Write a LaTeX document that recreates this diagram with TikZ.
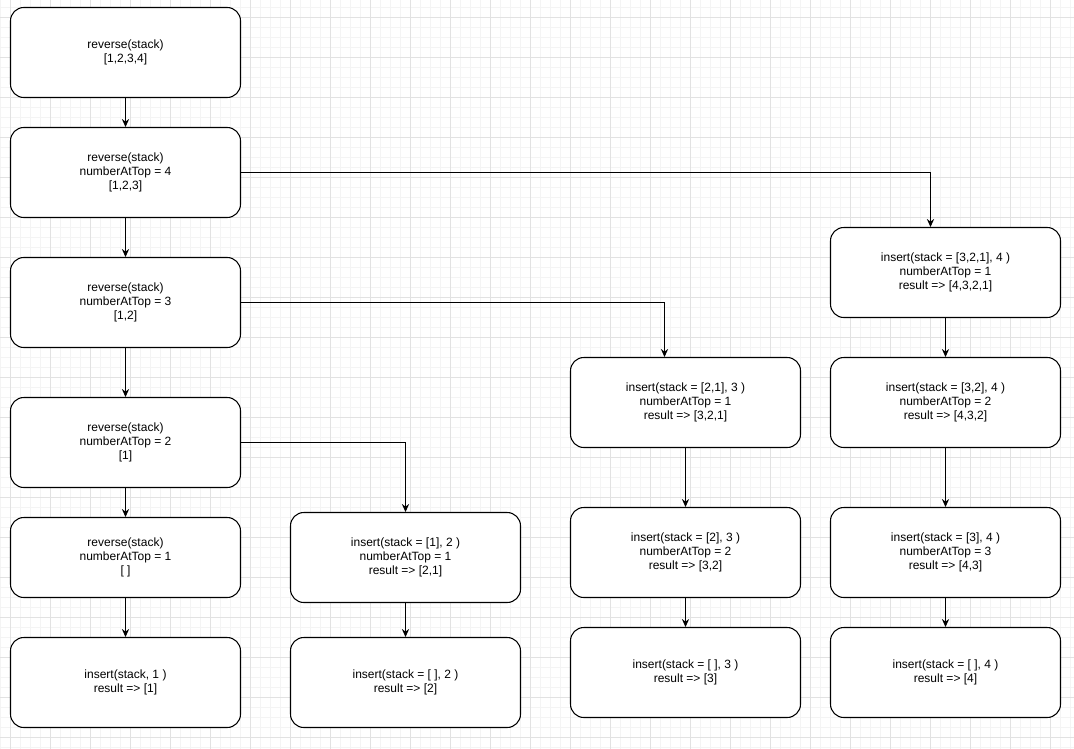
\documentclass[tikz,border=0pt]{standalone}
\usepackage{fontspec}
\setmainfont{Liberation Sans}
\usetikzlibrary{arrows.meta,calc}
\definecolor{gridminor}{HTML}{F4F4F4}
\definecolor{gridmajor}{HTML}{E2E2E2}
\tikzset{
  stepbox/.style={draw=black, line width=0.8pt, fill=white, rounded corners=10pt,
    minimum width=172.5pt, minimum height=67.5pt, inner sep=0pt, align=center,
    font=\fontsize{9}{10.5}\selectfont},
  shortbox/.style={stepbox, minimum height=60pt},
  flow/.style={draw=black, line width=0.8pt, -{Stealth[length=6pt,width=5.5pt,inset=2pt]}}
}
\begin{document}
\begin{tikzpicture}[x=0.75pt,y=-0.75pt]
\useasboundingbox (0,0) rectangle (1074,749);
\fill[white] (0,0) rectangle (1074,749);
% background grid
\foreach \gx in {0.5,10.5,...,1070.5} \draw[gridminor,line width=0.75pt] (\gx,0) -- (\gx,749);
\foreach \gy in {7.5,17.5,...,747.5} \draw[gridminor,line width=0.75pt] (0,\gy) -- (1074,\gy);
\foreach \gx in {10.5,50.5,...,1050.5} \draw[gridmajor,line width=0.75pt] (\gx,0) -- (\gx,749);
\foreach \gy in {17.5,57.5,...,737.5} \draw[gridmajor,line width=0.75pt] (0,\gy) -- (1074,\gy);

% reverse() calls
\node[stepbox] (B1) at (125.5,52.5) {reverse(stack)\\{}[1,2,3,4]};
\node[stepbox] (B2) at (125.5,172.5) {reverse(stack)\\numberAtTop = 4\\{}[1,2,3]};
\node[stepbox] (B3) at (125.5,302.5) {reverse(stack)\\numberAtTop = 3\\{}[1,2]};
\node[stepbox] (B4) at (125.5,442.5) {reverse(stack)\\numberAtTop = 2\\{}[1]};
\node[shortbox] (B5) at (125.5,557.5) {reverse(stack)\\numberAtTop = 1\\{}[ ]};
\node[stepbox] (B6) at (125.5,682.5) {insert(stack, 1 )\\result => [1]};

% insert() with 2
\node[stepbox] (C1) at (405.5,557.5) {insert(stack = [1], 2 )\\numberAtTop = 1\\result => [2,1]};
\node[stepbox] (C2) at (405.5,682.5) {insert(stack = [ ], 2 )\\result => [2]};

% insert() with 3
\node[stepbox] (D1) at (685.5,402.5) {insert(stack = [2,1], 3 )\\numberAtTop = 1\\result => [3,2,1]};
\node[stepbox] (D2) at (685.5,552.5) {insert(stack = [2], 3 )\\numberAtTop = 2\\result => [3,2]};
\node[stepbox] (D3) at (685.5,672.5) {insert(stack = [ ], 3 )\\result => [3]};

% insert() with 4
\node[stepbox] (E1) at (945.5,272.5) {insert(stack = [3,2,1], 4 )\\numberAtTop = 1\\result => [4,3,2,1]};
\node[stepbox] (E2) at (945.5,402.5) {insert(stack = [3,2], 4 )\\numberAtTop = 2\\result => [4,3,2]};
\node[stepbox] (E3) at (945.5,552.5) {insert(stack = [3], 4 )\\numberAtTop = 3\\result => [4,3]};
\node[stepbox] (E4) at (945.5,672.5) {insert(stack = [ ], 4 )\\result => [4]};

% connectors
\draw[flow] (B1) -- (B2);
\draw[flow] (B2) -- (B3);
\draw[flow] (B3) -- (B4);
\draw[flow] (B4) -- (B5);
\draw[flow] (B5) -- (B6);
\draw[flow] (C1) -- (C2);
\draw[flow] (D1) -- (D2);
\draw[flow] (D2) -- (D3);
\draw[flow] (E1) -- (E2);
\draw[flow] (E2) -- (E3);
\draw[flow] (E3) -- (E4);
\coordinate (e1in) at ($(E1.north)+(-15,0)$);
\coordinate (d1in) at ($(D1.north)+(-21,0)$);
\draw[flow] (B2.east) -| (e1in);
\draw[flow] (B3.east) -| (d1in);
\draw[flow] (B4.east) -| (C1.north);
\end{tikzpicture}
\end{document}
